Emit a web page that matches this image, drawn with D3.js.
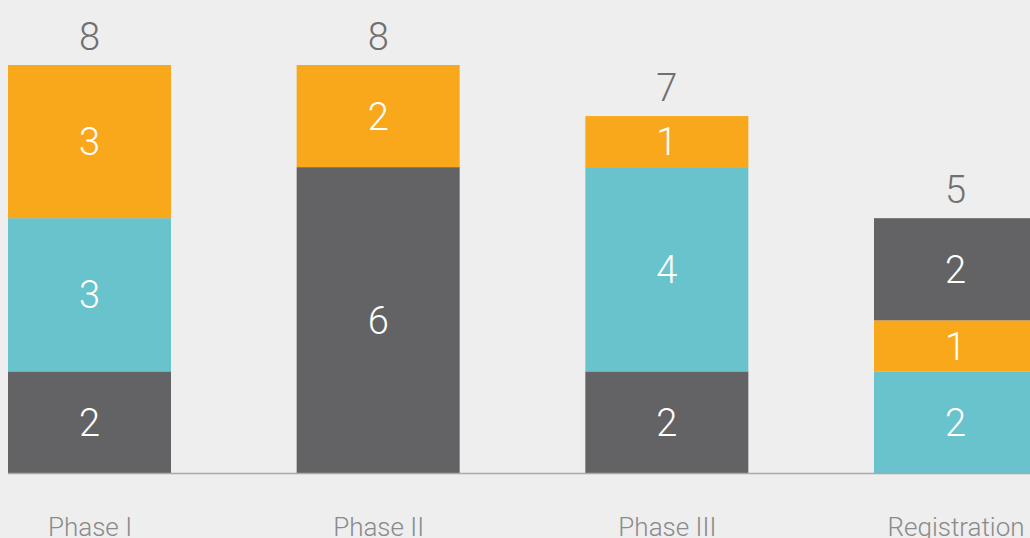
<!DOCTYPE html>
<html><head><meta charset="utf-8">
<script src="https://cdn.jsdelivr.net/npm/d3@7"></script>
<style>
html,body{margin:0;padding:0;background:#eeeeee;overflow:hidden;}
svg{display:block;}
</style></head>
<body>
<svg id="chart" width="1030" height="538"></svg>
<script>
const categories = ["Phase I", "Phase II", "Phase III", "Registration"];
const seriesNames = ["dark", "teal", "orange"];
const darkValues = [2, 6, 2, 2];
const tealValues = [3, 0, 4, 2];
const orangeValues = [3, 2, 1, 1];
// bottom-to-top stacking order for each category
const stackOrder = [
  ["dark", "teal", "orange"],
  ["dark", "teal", "orange"],
  ["dark", "teal", "orange"],
  ["teal", "orange", "dark"]
];
const colors = {dark: "#636365", teal: "#69c3cc", orange: "#f9a81c"};
const values = {dark: darkValues, teal: tealValues, orange: orangeValues};

const W = 1030, H = 538;
const baseY = 473.5, topY = 65;
const barW = 163;
const svg = d3.select("#chart");
svg.append("rect").attr("width", W).attr("height", H).attr("fill", "#eeeeee");

const x = d3.scalePoint().domain(categories).range([89.5, 955.5]);
const y = d3.scaleLinear().domain([0, 8]).range([baseY, topY]);

const font = "Roboto, 'Open Sans', sans-serif";

categories.forEach((cat, i) => {
  let acc = 0;
  const g = svg.append("g");
  stackOrder[i].forEach(s => {
    const v = values[s][i];
    if (!v) return;
    const y0 = acc, y1 = acc + v;
    acc = y1;
    g.append("rect")
      .attr("x", x(cat) - barW / 2)
      .attr("width", barW)
      .attr("y", y(y1))
      .attr("height", y(y0) - y(y1))
      .attr("fill", colors[s]);
    g.append("text")
      .attr("x", x(cat))
      .attr("y", (y(y0) + y(y1)) / 2)
      .attr("dy", "0.36em")
      .attr("text-anchor", "middle")
      .attr("fill", "#ffffff")
      .attr("font-family", font)
      .attr("font-weight", 300)
      .attr("font-size", 38)
      .text(v);
  });
  g.append("text")
    .attr("x", x(cat))
    .attr("y", y(acc) - 15)
    .attr("text-anchor", "middle")
    .attr("fill", "#707070")
    .attr("font-family", font)
    .attr("font-weight", 300)
    .attr("font-size", 38)
    .text(acc);
});

svg.append("line")
  .attr("x1", 8).attr("x2", W)
  .attr("y1", baseY).attr("y2", baseY)
  .attr("stroke", "#a9a9a9").attr("stroke-width", 1.5);

const xAxis = d3.axisBottom(x).tickSize(0).tickPadding(0);
const ax = svg.append("g").attr("transform", `translate(0,${baseY})`).call(xAxis);
ax.select(".domain").remove();
ax.selectAll("text")
  .attr("y", 62)
  .attr("dy", 0)
  .attr("fill", "#8a8a8a")
  .attr("font-family", font)
  .attr("font-weight", 300)
  .attr("font-size", 26);
</script>
</body></html>
